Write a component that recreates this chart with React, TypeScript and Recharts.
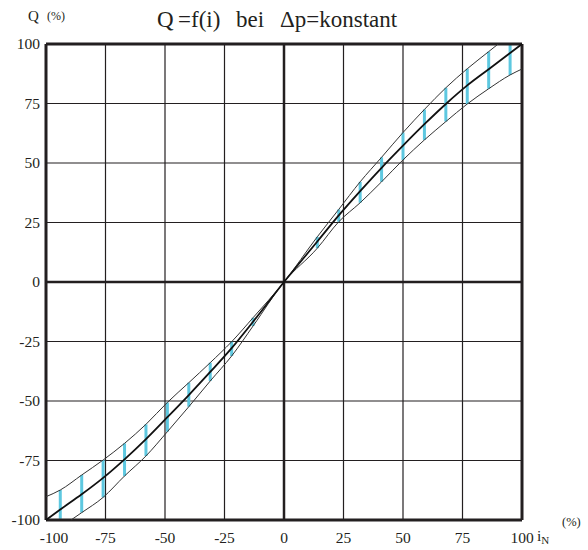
import { LineChart, Line, XAxis, YAxis, CartesianGrid, ReferenceLine } from 'recharts';

const ticks = [-100, -75, -50, -25, 0, 25, 50, 75, 100];

const midI = [-100, -94, -85, -76, -67, -58, -49, -40, -31, -22, -13, 0, 14, 23, 32, 41, 50, 59, 68, 77, 86, 95, 100];
const midQ = [-100, -95.6, -89.2, -82.3, -74.5, -66, -56.8, -47.5, -37.8, -27.8, -16.7, 0, 17, 28, 38.2, 48, 57.3, 66.3, 74.8, 82.6, 89.4, 96.2, 100];

const upperI = [-100, -94, -85, -76, -67, -58, -49, -40, -31, -22, -13, 0, 14, 23, 32, 41, 50, 59, 68, 77, 86, 90];
const upperQ = [-90.2, -87.4, -81.1, -74.8, -67.8, -59.8, -50.6, -42.3, -33.9, -25.1, -15, 0, 19, 30.5, 42.1, 52.4, 62.8, 72.5, 81.6, 89.6, 96.8, 100];

const lowerI = [-89.5, -85, -76, -67, -58, -49, -40, -31, -22, -13, 0, 14, 23, 32, 41, 50, 59, 68, 77, 86, 95, 100];
const lowerQ = [-100, -96.9, -90.5, -81.5, -73.1, -62.9, -52.4, -41.6, -31.1, -18.5, 0, 14.2, 25.3, 33.3, 42.1, 51.3, 59.7, 67.4, 74.8, 81.2, 87, 89.5];

// blue bars between the two limit curves
const barI = [-94, -85, -76, -67, -58, -49, -40, -31, -22, -13, 14, 23, 32, 41, 50, 59, 68, 77, 86, 95];
const barLow = [-99.5, -96.9, -90.5, -81.5, -73.1, -62.9, -52.4, -41.6, -31.1, -18.5, 14.2, 25.3, 33.3, 42.1, 51.3, 59.7, 67.4, 74.8, 81.2, 87];
const barHigh = [-87.4, -81.1, -74.8, -67.8, -59.8, -50.6, -42.3, -33.9, -25.1, -15, 19, 30.5, 42.1, 52.4, 62.8, 72.5, 81.6, 89.6, 96.8, 100];

const toRows = (xs: number[], ys: number[]) => xs.map((i, k) => ({ i, q: ys[k] }));
const midData = toRows(midI, midQ);
const upperData = toRows(upperI, upperQ);
const lowerData = toRows(lowerI, lowerQ);

const FONT = 'Liberation Serif, DejaVu Serif, serif';
const INK = '#231f20';

const XTick = ({ x, y, payload }: any) => (
  <text
    x={x + (payload.value === -100 ? 8 : 0)}
    y={y}
    dy={15}
    textAnchor="middle"
    style={{ fontFamily: FONT }}
    fontSize={15.5}
    fill={INK}
  >
    {payload.value}
  </text>
);

const YTick = ({ x, y, payload }: any) => (
  <text x={x + 2} y={y} dy={5} textAnchor="end" style={{ fontFamily: FONT }} fontSize={15.5} fill={INK}>
    {payload.value}
  </text>
);

export default function App() {
  return (
    <div style={{ position: 'absolute', left: 0, top: 0, width: 588, height: 550, background: '#fff', fontFamily: FONT }}>
      <LineChart width={588} height={550} margin={{ top: 44, right: 66, bottom: 0, left: 0 }}>
        <CartesianGrid stroke={INK} strokeWidth={1.2} />
        <XAxis
          type="number"
          dataKey="i"
          domain={[-100, 100]}
          ticks={ticks}
          tick={<XTick />}
          tickLine={false}
          axisLine={false}
          height={30}
        />
        <YAxis
          type="number"
          domain={[-100, 100]}
          ticks={ticks}
          tick={<YTick />}
          tickLine={false}
          axisLine={false}
          width={46}
        />
        {barI.map((i, k) => (
          <ReferenceLine
            key={i}
            segment={[
              { x: i, y: barLow[k] },
              { x: i, y: barHigh[k] },
            ]}
            stroke="#5ec8e0"
            strokeWidth={3}
          />
        ))}
        <ReferenceLine x={0} stroke={INK} strokeWidth={2.5} />
        <ReferenceLine y={0} stroke={INK} strokeWidth={2.5} />
        <ReferenceLine x={-100} stroke={INK} strokeWidth={3} />
        <ReferenceLine x={100} stroke={INK} strokeWidth={3} />
        <ReferenceLine y={-100} stroke={INK} strokeWidth={3} />
        <ReferenceLine y={100} stroke={INK} strokeWidth={3} />
        <Line data={upperData} dataKey="q" type="monotone" stroke="#333" strokeWidth={1} dot={false} isAnimationActive={false} />
        <Line data={lowerData} dataKey="q" type="monotone" stroke="#333" strokeWidth={1} dot={false} isAnimationActive={false} />
        <Line data={midData} dataKey="q" type="monotone" stroke="#111" strokeWidth={1.8} dot={false} isAnimationActive={false} />
        <text x={157} y={27} style={{ fontFamily: FONT }} fontSize={23} fill={INK}>
          Q
        </text>
        <text x={178} y={27} style={{ fontFamily: FONT }} fontSize={23} fill={INK} wordSpacing={10}>
          =f(i) bei Δp=konstant
        </text>
        <text x={28} y={21} style={{ fontFamily: FONT }} fontSize={15} fill={INK}>
          Q
        </text>
        <text x={47} y={20} style={{ fontFamily: FONT }} fontSize={12} fill={INK}>
          (%)
        </text>
        <text x={537} y={541} style={{ fontFamily: FONT }} fontSize={15.5} fill={INK}>
          i
          <tspan fontSize={11} dy={3}>N</tspan>
        </text>
        <text x={562} y={526} style={{ fontFamily: FONT }} fontSize={12.5} fill={INK}>
          (%)
        </text>
      </LineChart>
    </div>
  );
}
